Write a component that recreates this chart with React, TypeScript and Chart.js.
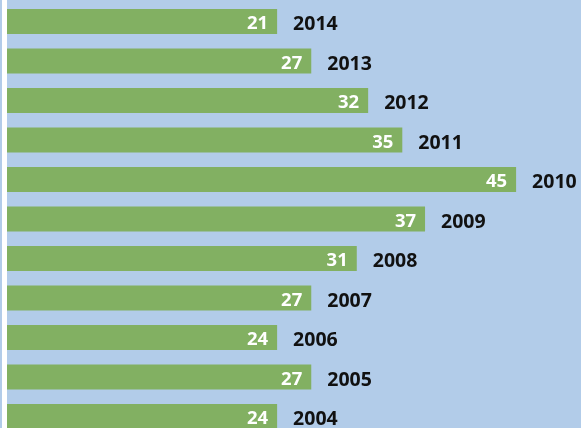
import React, { useEffect, useRef } from "react";
import { Chart, registerables } from "chart.js";

Chart.register(...registerables);

// Years, top to bottom
const years = ["2014", "2013", "2012", "2011", "2010", "2009", "2008", "2007", "2006", "2005", "2004"];
// Printed values
const printedValues = ["21", "27", "32", "35", "45", "37", "31", "27", "24", "27", "24"];
// Bar lengths as measured on the picture's scale
const barLengths = [24, 27, 32, 35, 45, 37, 31, 27, 24, 27, 24];

const BG = "#b2cce9";
const GREEN = "#82b062";

export default function App() {
  const ref = useRef<HTMLCanvasElement | null>(null);

  useEffect(() => {
    const canvas = ref.current;
    if (!canvas) return;
    const labelPlugin = {
      id: "barLabels",
      afterDatasetsDraw(chart: any) {
        const ctx = chart.ctx;
        const meta = chart.getDatasetMeta(0);
        ctx.save();
        // white vertical strip on the left
        ctx.fillStyle = "#ffffff";
        ctx.fillRect(2, 0, 5, chart.height);
        ctx.textBaseline = "alphabetic";
        meta.data.forEach((el: any, i: number) => {
          const x = el.x;
          const y = el.y;
          ctx.font = "bold 18.5px 'Open Sans'";
          ctx.fillStyle = "#ffffff";
          ctx.textAlign = "right";
          ctx.fillText(printedValues[i], x - 9, y + 7.5);
          ctx.font = "bold 19.5px 'Open Sans'";
          ctx.fillStyle = "#111111";
          ctx.textAlign = "left";
          ctx.fillText(years[i], x + 16, y + 8.5);
        });
        ctx.restore();
      },
    };
    const chart = new Chart(canvas, {
      type: "bar",
      data: {
        labels: years,
        datasets: [
          {
            data: barLengths,
            backgroundColor: GREEN,
            borderWidth: 0,
            barPercentage: 0.633,
            categoryPercentage: 1,
          },
        ],
      },
      options: {
        indexAxis: "y",
        animation: false,
        responsive: false,
        maintainAspectRatio: false,
        layout: { padding: { left: 4, right: 8, top: 1.75, bottom: 1.75 } },
        plugins: { legend: { display: false }, tooltip: { enabled: false } },
        scales: {
          x: { display: false, min: 0, max: 50 },
          y: { display: false },
        },
      },
      plugins: [labelPlugin],
    });
    return () => chart.destroy();
  }, []);

  return (
    <div
      style={{
        position: "fixed",
        left: 0,
        top: 0,
        width: 581,
        height: 428,
        overflow: "hidden",
        background: BG,
      }}
    >
      <canvas ref={ref} width={581} height={438} style={{ display: "block" }} />
    </div>
  );
}
